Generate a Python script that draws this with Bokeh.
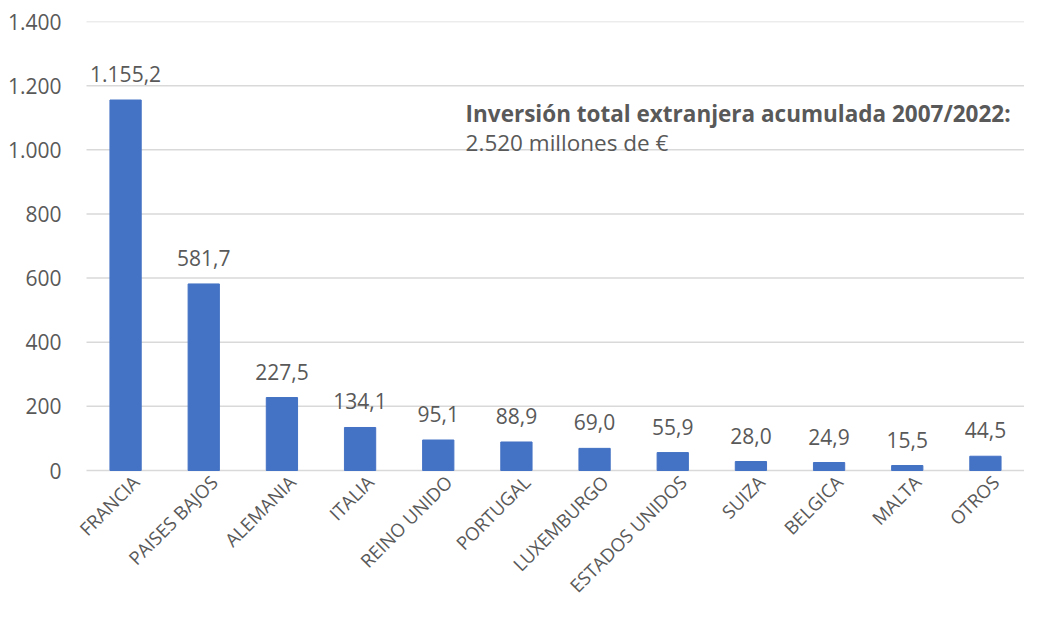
import math
from bokeh.plotting import figure
from bokeh.models import ColumnDataSource, FixedTicker, CustomJSTickFormatter, Label, Range1d
from bokeh.embed import file_html
from bokeh.resources import INLINE
from bokeh.core.properties import value

countries = ["FRANCIA", "PAISES BAJOS", "ALEMANIA", "ITALIA", "REINO UNIDO", "PORTUGAL",
             "LUXEMBURGO", "ESTADOS UNIDOS", "SUIZA", "BELGICA", "MALTA", "OTROS"]
investment = [1155.2, 581.7, 227.5, 134.1, 95.1, 88.9, 69.0, 55.9, 28.0, 24.9, 15.5, 44.5]
y_ticks = [0, 200, 400, 600, 800, 1000, 1200, 1400]
note_title = "Inversión total extranjera acumulada 2007/2022:"
note_value = "2.520 millones de €"

def es_fmt(v):
    s = f"{v:,.1f}"
    return s.replace(",", "X").replace(".", ",").replace("X", ".")

n = len(countries)
labels = [es_fmt(v) for v in investment]
centers = [i + 0.5 for i in range(n)]
src = ColumnDataSource(dict(x=centers, name=countries, top=investment, lab=labels,
                            base=[0] * n))
grid = ColumnDataSource(dict(y=y_ticks, x0=[0] * len(y_ticks), x1=[n] * len(y_ticks)))

FONT = "Open Sans"
GREY = "#595959"
FS = "21px"

# layout in pixels
W, H = 1024, 606
FRAME_L, CAT_L = 50, 86          # frame left edge, start of first category
TOP, ZERO = 21, 470              # y of 1400 and of 0
cat_w = (W - CAT_L) / n
xmin = -(CAT_L - FRAME_L) / cat_w
ymax = y_ticks[-1]
ymin = -ymax * (H - ZERO) / (ZERO - TOP)

p = figure(x_range=Range1d(xmin, n), y_range=Range1d(ymin, ymax), width=W, height=H,
           output_backend="svg", toolbar_location=None,
           min_border_left=FRAME_L, min_border_right=0, min_border_top=TOP, min_border_bottom=0)
p.outline_line_color = None
p.background_fill_color = "white"
p.xgrid.grid_line_color = None
p.ygrid.grid_line_color = None

p.segment(x0="x0", x1="x1", y0="y", y1="y", source=grid, line_color="#d9d9d9", line_width=1.5)
p.vbar(x="x", top="top", width=0.4, color="#4472C4", source=src)
p.text(x="x", y="top", text="lab", source=src, text_align="center", text_baseline="middle",
       y_offset=-26, text_font=value(FONT), text_font_size=FS, text_color=GREY)
# category labels, rotated 45 degrees below the axis
p.text(x="x", y="base", text="name", source=src, angle=math.pi / 4,
       text_align="right", text_baseline="middle", x_offset=10, y_offset=8,
       text_font=value(FONT), text_font_size="18.5px", text_color=GREY)

p.xaxis.visible = False
p.yaxis.ticker = FixedTicker(ticks=y_ticks)
p.yaxis.formatter = CustomJSTickFormatter(code="""
    if (tick >= 1000) { return Math.floor(tick/1000) + '.' + String(tick % 1000).padStart(3, '0'); }
    return String(tick);
""")
p.yaxis.axis_line_color = None
p.yaxis.major_tick_line_color = None
p.yaxis.minor_tick_line_color = None
p.yaxis.major_label_text_font = FONT
p.yaxis.major_label_text_font_size = FS
p.yaxis.major_label_text_color = GREY
p.yaxis.major_label_standoff = -17

p.add_layout(Label(x=4.85, y=1113, text=note_title,
                   text_font=FONT, text_font_size="22.5px", text_font_style="bold",
                   text_color=GREY, text_baseline="middle"))
p.add_layout(Label(x=4.85, y=1022, text=note_value,
                   text_font=FONT, text_font_size="22.5px",
                   text_color=GREY, text_baseline="middle"))

open("out.html", "w").write(file_html(p, INLINE))
